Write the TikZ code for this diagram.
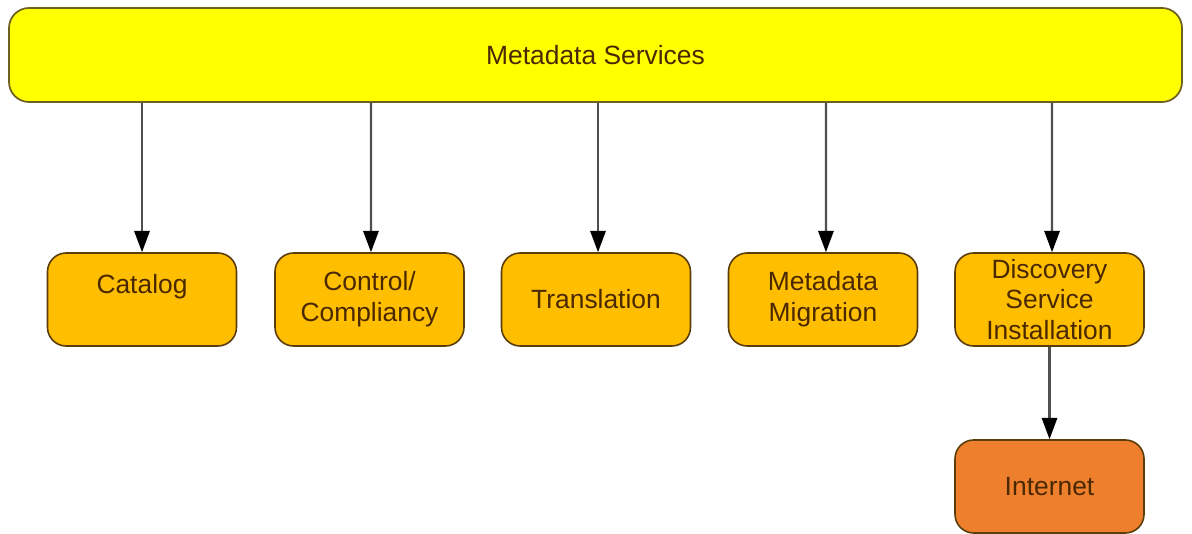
\documentclass[tikz,border=0pt]{standalone}
\usepackage{fontspec}
\setmainfont{Liberation Sans}
\usetikzlibrary{arrows.meta}
\definecolor{baryellow}{HTML}{FFFF00}
\definecolor{barborder}{HTML}{6E6020}
\definecolor{boxamber}{HTML}{FFBF00}
\definecolor{boxorange}{HTML}{EE7F2D}
\definecolor{boxborder}{HTML}{5A3D0A}
\definecolor{txtbrown}{HTML}{4A2800}
\definecolor{linegray}{HTML}{505050}
\tikzset{
  bar/.style={draw=barborder, fill=baryellow, line width=1.3pt, rounded corners=15pt,
    minimum width=879.75pt, minimum height=70.5pt, inner sep=0pt,
    text=txtbrown, font=\fontsize{19.8}{23.2}\selectfont},
  item/.style={draw=boxborder, fill=boxamber, line width=1.2pt, rounded corners=14pt,
    minimum width=141.75pt, minimum height=69.75pt, inner sep=0pt, align=center,
    text=txtbrown, font=\fontsize{19.8}{23.2}\selectfont},
  net/.style={item, fill=boxorange},
  conn/.style={draw=linegray, line width=1.6pt, -{Triangle[length=16pt,width=11.5pt,fill=black,color=black]}}
}
\begin{document}
\begin{tikzpicture}[x=0.75pt,y=-0.75pt]
\useasboundingbox (0,0) rectangle (1192,534);
\node[bar] (ms) at (595.5,55) {Metadata Services};
\node[item] (cat) at (142,299.5) {Catalog\\ \mbox{}};
\node[item] (ctl) at (369.5,299.5) {Control/\\Compliancy};
\node[item] (tr) at (596,299.5) {Translation};
\node[item] (mm) at (823,299.5) {Metadata\\Migration};
\node[item] (ds) at (1049.5,299.5) {Discovery\\Service\\Installation};
\node[net] (in) at (1049.5,486.5) {Internet};
\draw[conn] (ms.south -| cat.north) -- (cat.north);
\draw[conn] (ms.south -| ctl.north) ++(1.5,0) -- ([xshift=1.1pt]ctl.north);
\draw[conn] (ms.south -| tr.north) ++(2,0) -- ([xshift=1.5pt]tr.north);
\draw[conn] (ms.south -| mm.north) ++(3,0) -- ([xshift=2.2pt]mm.north);
\draw[conn] (ms.south -| ds.north) ++(2.5,0) -- ([xshift=1.9pt]ds.north);
\draw[conn] (ds.south) -- (in.north);
\end{tikzpicture}
\end{document}
